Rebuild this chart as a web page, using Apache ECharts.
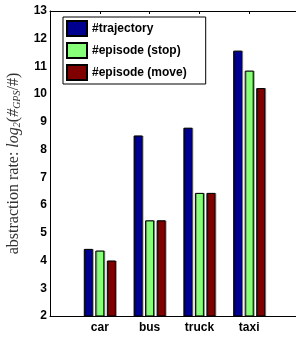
<!DOCTYPE html>
<html>
<head>
<meta charset="utf-8">
<script src="https://cdn.jsdelivr.net/npm/echarts@6/dist/echarts.min.js"></script>
<style>
  html, body { margin: 0; padding: 0; background: #fff; }
  #chart { width: 296px; height: 339px; }
</style>
</head>
<body>
<div id="chart"></div>
<script>
// padded with empty slots so the axis runs 0..5 like the original
var categories = ['', 'car', 'bus', 'truck', 'taxi', '']
var trajectory = ['-', 4.42, 8.51, 8.79, 11.57, '-']
var episodeStop = ['-', 4.36, 5.45, 6.44, 10.85, '-']
var episodeMove = ['-', 4.0, 5.45, 6.44, 10.22, '-']

var chart = echarts.init(document.getElementById('chart'))

function barSeries(name, data, color) {
  return {
    name: name,
    type: 'bar',
    data: data,
    barWidth: 9,
    barGap: '28%',
    itemStyle: {
      color: color,
      borderColor: '#000',
      borderWidth: 1,
      shadowColor: 'rgba(0,0,0,0.35)',
      shadowOffsetX: 1,
      shadowOffsetY: 0
    }
  }
}

chart.setOption({
  animation: false,
  grid: {
    left: 50,
    top: 11,
    width: 249,
    bottom: 23,
    outerBoundsMode: 'none'
  },
  legend: {
    orient: 'vertical',
    left: 63,
    top: 17,
    icon: 'rect',
    itemWidth: 20,
    itemHeight: 15,
    itemGap: 5,
    padding: [3, 19, 3, 3],
    borderColor: '#000',
    borderWidth: 1,
    backgroundColor: '#fff',
    textStyle: {
      fontFamily: 'Liberation Sans',
      fontWeight: 'bold',
      fontSize: 12,
      color: '#000'
    }
  },
  xAxis: [{
    type: 'category',
    data: categories,
    boundaryGap: false,
    axisLine: { lineStyle: { color: '#000' } },
    axisTick: { show: false },
    axisLabel: {
      fontFamily: 'Liberation Sans',
      fontWeight: 'bold',
      fontSize: 12,
      color: '#000',
      margin: 6
    }
  }, {
    type: 'category',
    data: categories,
    boundaryGap: false,
    position: 'top',
    axisLine: { show: true, lineStyle: { color: '#000' } },
    axisTick: { inside: true, length: 3, lineStyle: { color: '#000' } },
    axisLabel: { show: false }
  }],
  yAxis: {
    type: 'value',
    min: 2,
    max: 13,
    interval: 1,
    splitLine: { show: false },
    axisLine: { show: true, lineStyle: { color: '#000' } },
    axisTick: { inside: true, length: 3, lineStyle: { color: '#000' } },
    axisLabel: {
      fontFamily: 'Liberation Sans',
      fontWeight: 'bold',
      fontSize: 12,
      color: '#000',
      margin: 3
    },
    name: '{a|abstraction rate: }{b|log}{c|2}{a|(}{b|#}{c|GPS}{a|/#)}',
    nameLocation: 'middle',
    nameGap: 27,
    nameTextStyle: {
      rich: {
        a: { fontFamily: 'Liberation Serif', fontSize: 16, color: '#333' },
        b: { fontFamily: 'Liberation Serif', fontStyle: 'italic', fontSize: 16, color: '#333' },
        c: { fontFamily: 'Liberation Serif', fontStyle: 'italic', fontSize: 10, color: '#333', padding: [7, 0, 0, 0] }
      }
    }
  },
  series: [
    barSeries('#trajectory', trajectory, '#000090'),
    barSeries('#episode (stop)', episodeStop, '#88ff78'),
    barSeries('#episode (move)', episodeMove, '#800000')
  ]
})
</script>
</body>
</html>
